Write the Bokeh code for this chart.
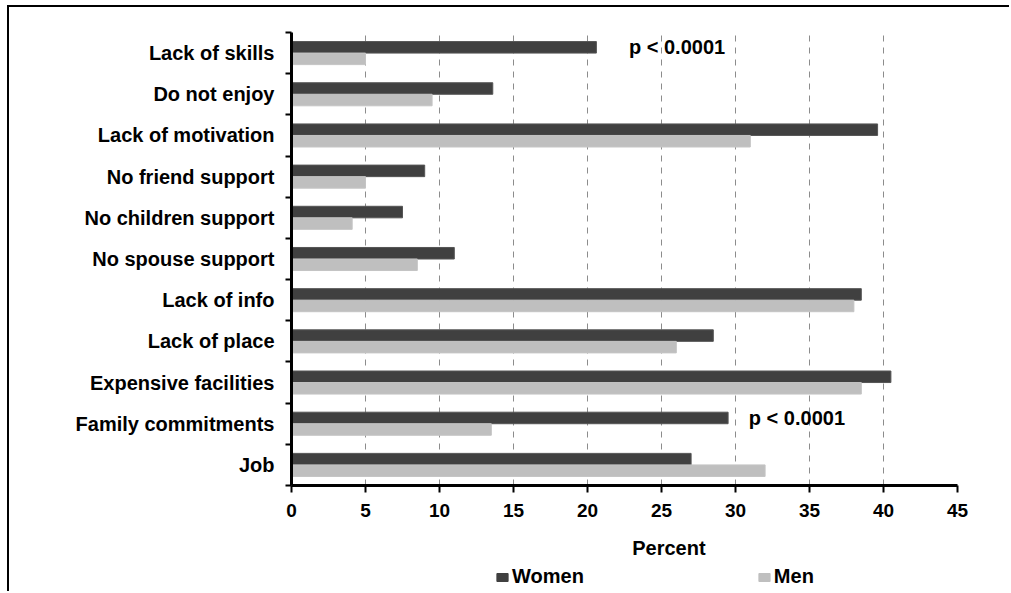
from bokeh.plotting import figure
from bokeh.layouts import column
from bokeh.models import FixedTicker, Legend, LegendItem, Label, Range1d, ColumnDataSource
from bokeh.embed import file_html
from bokeh.resources import INLINE

categories = ["Lack of skills", "Do not enjoy", "Lack of motivation", "No friend support",
              "No children support", "No spouse support", "Lack of info", "Lack of place",
              "Expensive facilities", "Family commitments", "Job"]
women = [20.6, 13.6, 39.6, 9.0, 7.5, 11.0, 38.5, 28.5, 40.5, 29.5, 27.0]
men = [5.0, 9.5, 31.0, 5.0, 4.1, 8.5, 38.0, 26.0, 38.5, 13.5, 32.0]
x_ticks = [0, 5, 10, 15, 20, 25, 30, 35, 40, 45]
annotations = [("Lack of skills", 22.8, "p < 0.0001"), ("Family commitments", 30.9, "p < 0.0001")]
series = ["Women", "Men"]
colors = ["#404040", "#bfbfbf"]
edges = ["#555555", "#c4c4c4"]

n = len(categories)
centers = [n - i - 0.5 for i in range(n)]
bar_h = 0.28

FONT = "Liberation Sans"

p = figure(width=1000, height=523, output_backend="svg", toolbar_location=None,
           x_range=Range1d(0, 45), y_range=Range1d(0, n),
           min_border_left=282, min_border_right=52, min_border_top=25, min_border_bottom=45,
           background_fill_color="white", border_fill_color="white")
p.outline_line_color = None

src = ColumnDataSource(dict(
    yw=[c + bar_h / 2 for c in centers],
    ym=[c - bar_h / 2 for c in centers],
    women=women, men=men))

rw = p.hbar(y="yw", right="women", left=0, height=bar_h, source=src,
            fill_color=colors[0], line_color=edges[0], line_width=1)
rm = p.hbar(y="ym", right="men", left=0, height=bar_h, source=src,
            fill_color=colors[1], line_color=edges[1], line_width=1)

# grid
p.ygrid.grid_line_color = None
p.xgrid.ticker = FixedTicker(ticks=x_ticks)
p.xgrid.grid_line_color = "#8c8c8c"
p.xgrid.grid_line_dash = "6 6"
p.xgrid.grid_line_width = 1

# x axis
xa = p.xaxis[0]
xa.ticker = FixedTicker(ticks=x_ticks)
xa.axis_line_width = 3
xa.axis_line_color = "black"
xa.major_tick_line_width = 2
xa.major_tick_out = 7
xa.major_tick_in = 0
xa.minor_tick_line_color = None
xa.major_label_text_font = FONT
xa.major_label_text_font_style = "bold"
xa.major_label_text_font_size = "19px"
xa.major_label_text_color = "black"
xa.major_label_standoff = 11

# y axis
ya = p.yaxis[0]
ya.ticker = FixedTicker(ticks=centers, minor_ticks=list(range(n + 1)))
ya.major_label_overrides = {c: categories[i] for i, c in enumerate(centers)}
ya.axis_line_width = 3
ya.axis_line_color = "black"
ya.major_tick_out = 0
ya.major_tick_in = 0
ya.major_tick_line_color = None
ya.minor_tick_out = 6
ya.minor_tick_in = 0
ya.minor_tick_line_width = 2
ya.minor_tick_line_color = "black"
ya.major_label_text_font = FONT
ya.major_label_text_font_style = "bold"
ya.major_label_text_font_size = "20px"
ya.major_label_text_color = "black"
ya.major_label_standoff = 11

# p-value annotations
for cat, xv, txt in annotations:
    yv = centers[categories.index(cat)] + bar_h / 2
    p.add_layout(Label(x=xv, y=yv, text=txt, text_font=FONT, text_font_style="bold",
                       text_font_size="20px", text_baseline="middle", text_color="black"))

# strip below: axis title and legend (its bars lie outside the strip's visible y range)
p2 = figure(width=1000, height=61, output_backend="svg", toolbar_location=None,
            x_range=p.x_range, y_range=Range1d(100, 161),
            x_axis_type=None, y_axis_type=None,
            min_border_left=282, min_border_right=52, min_border_top=0, min_border_bottom=0,
            background_fill_color="white", border_fill_color="white")
p2.outline_line_color = None
p2.grid.visible = False

p2.add_layout(Label(x=25.5, y=144, text="Percent", text_font=FONT, text_font_style="bold",
                    text_font_size="20px", text_align="center", text_baseline="middle",
                    text_color="black"))

kw = p2.hbar(y="yw", right="women", left=0, height=bar_h, source=src,
             fill_color=colors[0], line_color=colors[0])
km = p2.hbar(y="ym", right="men", left=0, height=bar_h, source=src,
             fill_color=colors[1], line_color=colors[1])
lg = Legend(items=[LegendItem(label=s, renderers=[k]) for s, k in zip(series, [kw, km])],
            location=(204, 3), orientation="horizontal", border_line_color=None,
            background_fill_alpha=0, glyph_width=14, glyph_height=10, label_standoff=3,
            padding=0, margin=0, spacing=173,
            label_text_font=FONT, label_text_font_style="bold", label_text_font_size="20px",
            label_text_color="black", label_height=20, label_text_baseline="middle")
p2.add_layout(lg)

layout = column(p, p2, spacing=0)
layout.styles = {"border-left": "2px solid black", "border-top": "2px solid black",
                 "margin-left": "7px", "margin-top": "5px"}

open("out.html", "w").write(file_html(layout, INLINE))
